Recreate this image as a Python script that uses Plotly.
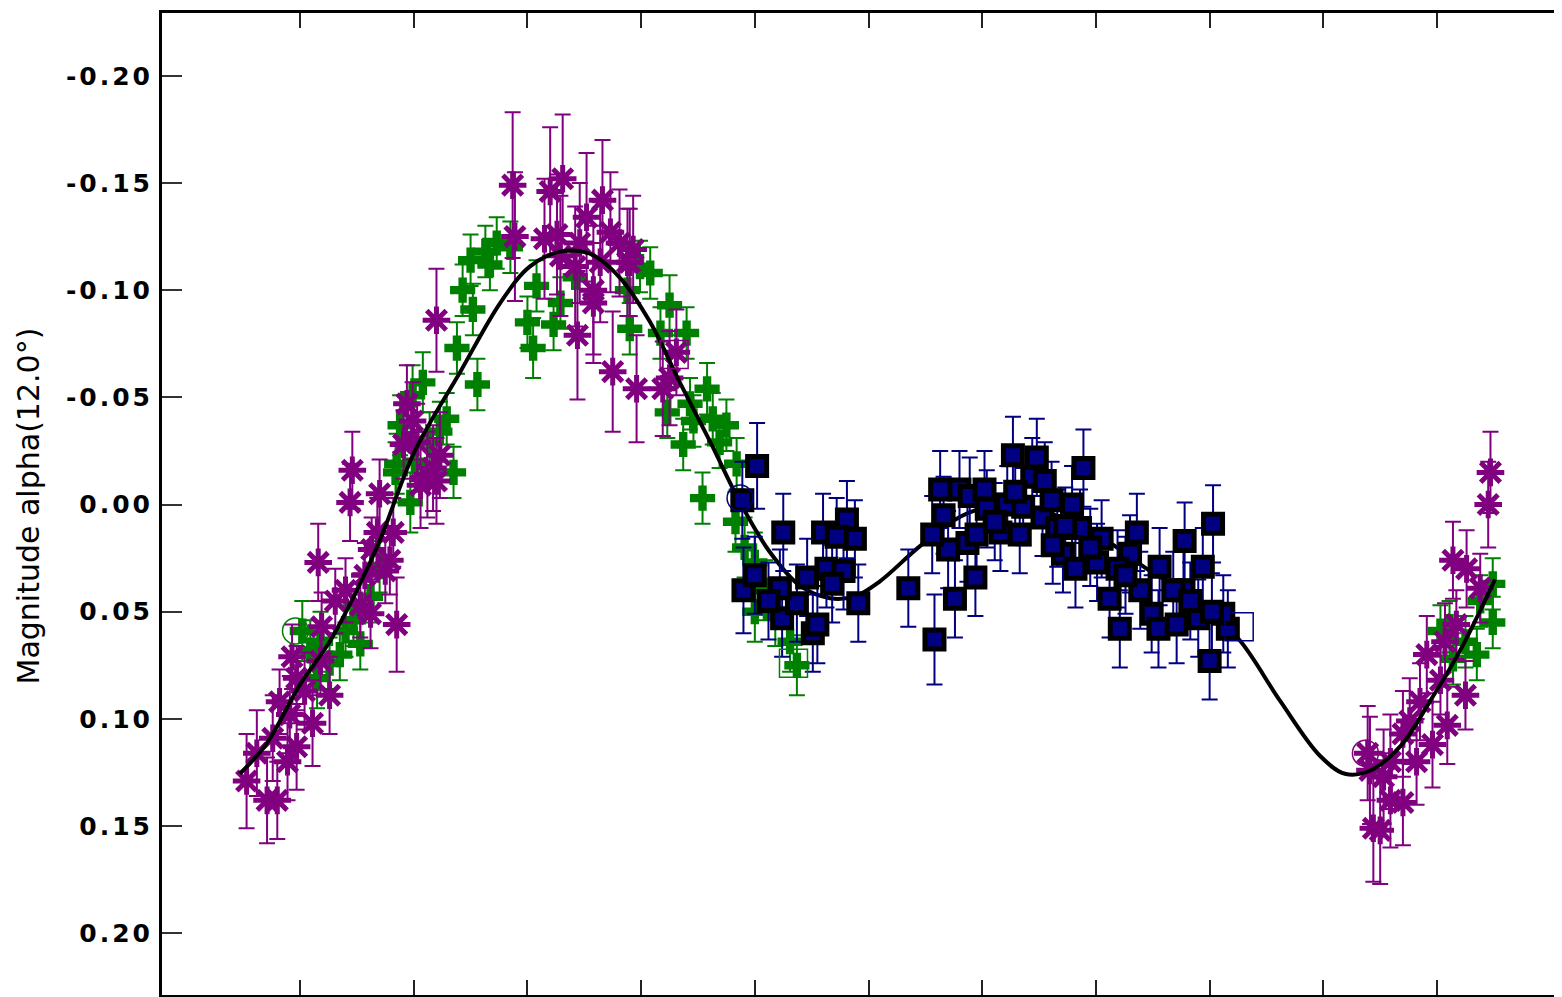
import plotly.graph_objects as go

# ---------------- data (phase, reduced magnitude, error) ----------------
P_PHASE = [-0.047,-0.038,-0.029,-0.020,-0.024,-0.011,-0.003,0.011,-0.009,0.026,-0.018,-0.003,-0.007,0.019,0.062,0.085,
           0.004,0.018,0.031,0.040,0.016,0.046,0.044,0.070,0.068,0.057,0.063,0.079,0.082,0.075,0.094,0.099,0.091,0.103,
           0.112,0.117,0.106,0.120,0.123,0.120,0.053,
           0.187,0.189,0.220,0.231,0.252,0.266,0.258,0.244,0.275,0.296,0.226,0.281,0.290,0.229,0.258,0.331,0.319,0.288,
           0.293,0.325,0.242,0.215,0.264,0.273,0.246,
           1.047,1.045,1.014,1.026,1.038,1.017,0.991,1.003,1.025,0.985,1.009,0.970,0.996,0.982,0.939,0.953,0.970,0.944,
           0.950,0.959,0.941,0.959,0.976,1.007]
P_MAG = [0.129,0.116,0.138,0.138,0.109,0.120,0.113,0.102,0.098,0.089,0.092,0.081,0.071,0.057,0.051,0.056,
         0.087,0.073,0.045,0.040,0.027,-0.016,-0.001,-0.005,0.013,0.033,0.021,0.026,0.013,0.031,-0.047,-0.039,-0.028,-0.029,
         -0.014,-0.017,-0.009,-0.011,-0.023,-0.086,0.047,
         -0.149,-0.125,-0.146,-0.152,-0.134,-0.142,-0.100,-0.079,-0.062,-0.054,-0.126,-0.122,-0.113,-0.116,-0.094,-0.071,-0.054,-0.113,
         -0.119,-0.059,-0.111,-0.124,-0.113,-0.127,-0.122,
         -0.015,0.000,0.026,0.030,0.039,0.056,0.070,0.082,0.089,0.092,0.103,0.107,0.112,0.120,0.116,0.127,0.139,0.151,
         0.152,0.138,0.124,0.120,0.101,0.064]
P_ERR = [0.022,0.020,0.020,0.018,0.020,0.018,0.020,0.020,0.018,0.018,0.015,0.015,0.015,0.016,0.016,0.022,
         0.018,0.016,0.015,0.015,0.018,0.018,0.018,0.016,0.016,0.015,0.015,0.016,0.016,0.015,0.018,0.018,0.016,0.018,
         0.020,0.020,0.020,0.020,0.020,0.024,0.015,
         0.034,0.030,0.030,0.030,0.030,0.028,0.030,0.030,0.028,0.025,0.028,0.025,0.025,0.028,0.028,0.020,0.022,0.025,
         0.025,0.022,0.028,0.028,0.028,0.028,0.028,
         0.019,0.020,0.018,0.018,0.016,0.016,0.018,0.016,0.016,0.018,0.018,0.020,0.020,0.020,0.022,0.022,0.020,0.025,
         0.025,0.022,0.025,0.022,0.020,0.018]

G_PHASE = [0.002,0.009,0.035,0.053,0.015,0.026,0.047,0.018,0.040,0.062,0.070,0.084,0.085,0.088,0.099,0.108,0.129,0.135,
           0.138,0.156,0.097,0.114,0.123,0.101,0.173,0.150,0.167,0.143,0.152,0.200,0.205,0.223,0.208,0.229,0.308,0.325,
           0.340,0.290,0.288,0.185,0.163,0.242,0.299,0.317,0.358,0.343,0.363,0.375,0.337,0.354,0.346,0.323,0.384,0.369,
           0.383,0.391,0.400,0.409,0.418,0.431,0.437,0.400,
           1.003,1.011,1.014,1.035,1.049,1.049,1.038,1.025]
G_MAG = [0.059,0.068,0.070,0.065,0.081,0.074,0.054,0.064,0.059,0.043,0.029,-0.015,-0.019,-0.037,-0.051,-0.057,-0.040,-0.015,
         -0.073,-0.056,-0.001,-0.029,-0.034,-0.020,-0.122,-0.114,-0.112,-0.100,-0.091,-0.085,-0.073,-0.084,-0.102,-0.094,-0.108,-0.093,
         -0.080,-0.082,-0.100,-0.120,-0.118,-0.106,-0.111,-0.080,-0.054,-0.047,-0.040,-0.037,-0.028,-0.003,-0.039,-0.043,-0.019,-0.029,
         0.008,0.020,0.027,0.040,0.052,0.064,0.075,0.050,
         0.059,0.057,0.072,0.070,0.055,0.037,0.045,0.064]
G_ERR = [0.014,0.014,0.012,0.012,0.014,0.012,0.012,0.014,0.012,0.012,0.012,0.014,0.014,0.014,0.014,0.014,0.012,0.012,
         0.012,0.012,0.014,0.014,0.014,0.014,0.012,0.012,0.012,0.012,0.012,0.012,0.014,0.012,0.012,0.012,0.012,0.014,
         0.012,0.012,0.012,0.012,0.012,0.012,0.012,0.012,0.012,0.012,0.012,0.012,0.012,0.012,0.012,0.012,0.012,0.012,
         0.014,0.014,0.014,0.014,0.014,0.014,0.014,0.014,
         0.012,0.012,0.012,0.012,0.012,0.012,0.012,0.012]

N_PHASE = [0.402,0.389,0.425,0.390,0.400,0.424,0.437,0.451,0.446,0.460,0.481,0.488,0.472,0.463,0.478,0.468,0.491,0.455,
           0.422,0.412,0.535,0.558,0.576,0.594,0.566,0.563,0.580,0.589,0.602,0.587,0.570,0.556,0.627,0.648,0.644,0.622,
           0.636,0.616,0.633,0.653,0.661,0.679,0.689,0.671,0.682,0.686,0.705,0.712,0.721,0.701,0.736,0.730,0.739,0.749,
           0.755,0.756,0.771,0.778,0.777,0.794,0.803,0.790,0.816,0.800,0.812,0.802,0.604,0.595,0.666,0.662,0.695,0.719,
           0.768,0.611,0.629,0.655,0.673,0.726,0.783]
N_MAG = [-0.018,-0.002,0.013,0.040,0.033,0.053,0.046,0.060,0.034,0.013,0.007,0.016,0.015,0.030,0.031,0.037,0.046,0.056,
         0.039,0.045,0.039,0.063,0.044,0.034,0.005,-0.007,-0.007,-0.004,-0.007,0.018,0.021,0.014,-0.023,-0.022,-0.013,0.000,
         0.001,0.013,0.014,0.006,-0.002,0.000,-0.017,0.023,0.030,0.011,0.016,0.044,0.058,0.027,0.013,0.023,0.040,0.051,
         0.058,0.029,0.056,0.017,0.040,0.029,0.009,0.053,0.058,0.073,0.051,0.050,0.002,0.014,0.011,0.019,0.020,0.030,
         0.040,0.008,-0.006,-0.011,0.010,0.033,0.045]
N_ERR = [0.020,0.018,0.018,0.020,0.018,0.018,0.018,0.018,0.018,0.018,0.018,0.018,0.018,0.018,0.018,0.018,0.018,0.018,
         0.018,0.018,0.018,0.021,0.018,0.018,0.018,0.018,0.018,0.018,0.018,0.018,0.018,0.018,0.018,0.018,0.018,0.018,
         0.018,0.018,0.018,0.018,0.018,0.018,0.018,0.018,0.018,0.018,0.018,0.018,0.018,0.018,0.018,0.018,0.018,0.018,
         0.018,0.018,0.018,0.018,0.018,0.018,0.018,0.018,0.018,0.018,0.018,0.018,0.018,0.018,0.018,0.018,0.018,0.018,
         0.018,0.018,0.018,0.018,0.018,0.018,0.018]

# Fourier fit curve
FIT_PHASE = [-0.053,-0.030,0.000,0.026,0.050,0.070,0.101,0.141,0.176,0.202,0.229,0.255,0.281,0.308,0.334,0.361,0.387,
             0.413,0.440,0.466,0.488,0.510,0.545,0.581,0.607,0.633,0.668,0.704,0.748,0.792,0.827,0.862,0.897,0.919,
             0.941,0.968,0.994,1.020,1.051]
FIT_MAG = [0.1256,0.112,0.084,0.064,0.040,0.017,-0.025,-0.062,-0.094,-0.111,-0.118,-0.117,-0.106,-0.085,-0.057,-0.029,
           -0.001,0.022,0.038,0.0437,0.0428,0.0358,0.0195,0.0056,0.0009,0.0009,0.0056,0.0149,0.0312,0.0451,0.0637,0.0916,
           0.1172,0.1256,0.1242,0.1126,0.0916,0.0684,0.0349]

# session start / end markers
CIRC_PHASE = [-0.004, 0.387, 0.937]
CIRC_MAG = [0.059, -0.003, 0.116]
CIRC_COL = ["#008000", "#000080", "#800080"]
SQ_PHASE = [0.329, 0.434, 0.826]
SQ_MAG = [-0.070, 0.074, 0.057]
SQ_COL = ["#800080", "#008000", "#000080"]

Y_TICKS = [-0.20, -0.15, -0.10, -0.05, 0.00, 0.05, 0.10, 0.15, 0.20]
Y_TICKTEXT = ["-0.20", "-0.15", "-0.10", "-0.05", "0.00", "0.05", "0.10", "0.15", "0.20"]
X_TICKS = [0.0, 0.1, 0.2, 0.3, 0.4, 0.5, 0.6, 0.7, 0.8, 0.9, 1.0]
Y_TITLE = "Magnitude alpha(12.0°)"

PURPLE = "#800080"
GREEN = "#008000"
NAVY = "#000080"

fig = go.Figure()

fig.add_trace(go.Scatter(
    x=G_PHASE, y=G_MAG, mode="markers",
    error_y=dict(type="data", array=G_ERR, color=GREEN, thickness=2, width=8),
    marker=dict(symbol="cross", size=21, color=GREEN, line=dict(width=0)),
    showlegend=False))

fig.add_trace(go.Scatter(
    x=P_PHASE, y=P_MAG, mode="markers",
    error_y=dict(type="data", array=P_ERR, color=PURPLE, thickness=2, width=8),
    marker=dict(symbol="asterisk-open", size=23, color=PURPLE, line=dict(width=5, color=PURPLE)),
    showlegend=False))

fig.add_trace(go.Scatter(
    x=FIT_PHASE, y=FIT_MAG, mode="lines",
    line=dict(color="black", width=4, shape="spline", smoothing=1.0),
    showlegend=False))

fig.add_trace(go.Scatter(
    x=N_PHASE, y=N_MAG, mode="markers",
    error_y=dict(type="data", array=N_ERR, color=NAVY, thickness=2, width=8),
    marker=dict(symbol="square", size=19, color=NAVY, line=dict(width=5, color="black")),
    showlegend=False))

fig.add_trace(go.Scatter(
    x=CIRC_PHASE, y=CIRC_MAG, mode="markers",
    marker=dict(symbol="circle-open", size=26, color=CIRC_COL, line=dict(width=1.5, color=CIRC_COL)),
    showlegend=False))

fig.add_trace(go.Scatter(
    x=SQ_PHASE, y=SQ_MAG, mode="markers",
    marker=dict(symbol="square-open", size=28, color=SQ_COL, line=dict(width=1.5, color=SQ_COL)),
    showlegend=False))

Y_RANGE = [0.2288, -0.2293]
X_RANGE = [-0.1214, 1.1231]

# page body has an 8px margin: plot area spans 162..1577 x 10..995 on screen
fig.update_layout(
    width=1580, height=997,
    margin=dict(l=154, r=11, t=2, b=10),
    paper_bgcolor="white", plot_bgcolor="white",
    xaxis=dict(range=X_RANGE, tickvals=X_TICKS, showticklabels=False, ticks="inside", ticklen=15,
               tickwidth=2, tickcolor="#222", showline=True, linewidth=3, linecolor="black",
               mirror="ticks", showgrid=False, zeroline=False),
    yaxis=dict(range=Y_RANGE, tickvals=Y_TICKS, ticktext=Y_TICKTEXT, ticks="inside", ticklen=20,
               tickwidth=2, tickcolor="#333", showline=True, linewidth=3, linecolor="black",
               mirror="ticks", showgrid=False, zeroline=False, ticklabelstandoff=1,
               tickfont=dict(family="DejaVu Sans", size=25, color="black", weight="bold")),
    annotations=[dict(text=Y_TITLE, textangle=-90, xref="paper", yref="paper",
                      x=(20 - 154) / 1415, y=(987 - 497) / 985, showarrow=False,
                      xanchor="center", yanchor="middle",
                      font=dict(family="DejaVu Sans", size=30, color="black"))],
)

post = """
var gd = document.getElementById('{plot_id}');
function fixTicks(){
  document.querySelectorAll('.ytick text').forEach(function(t){ t.style.letterSpacing = '3px'; });
}
fixTicks();
if (gd && gd.on) { gd.on('plotly_afterplot', fixTicks); }
"""

fig.write_html("out.html", post_script=post)
